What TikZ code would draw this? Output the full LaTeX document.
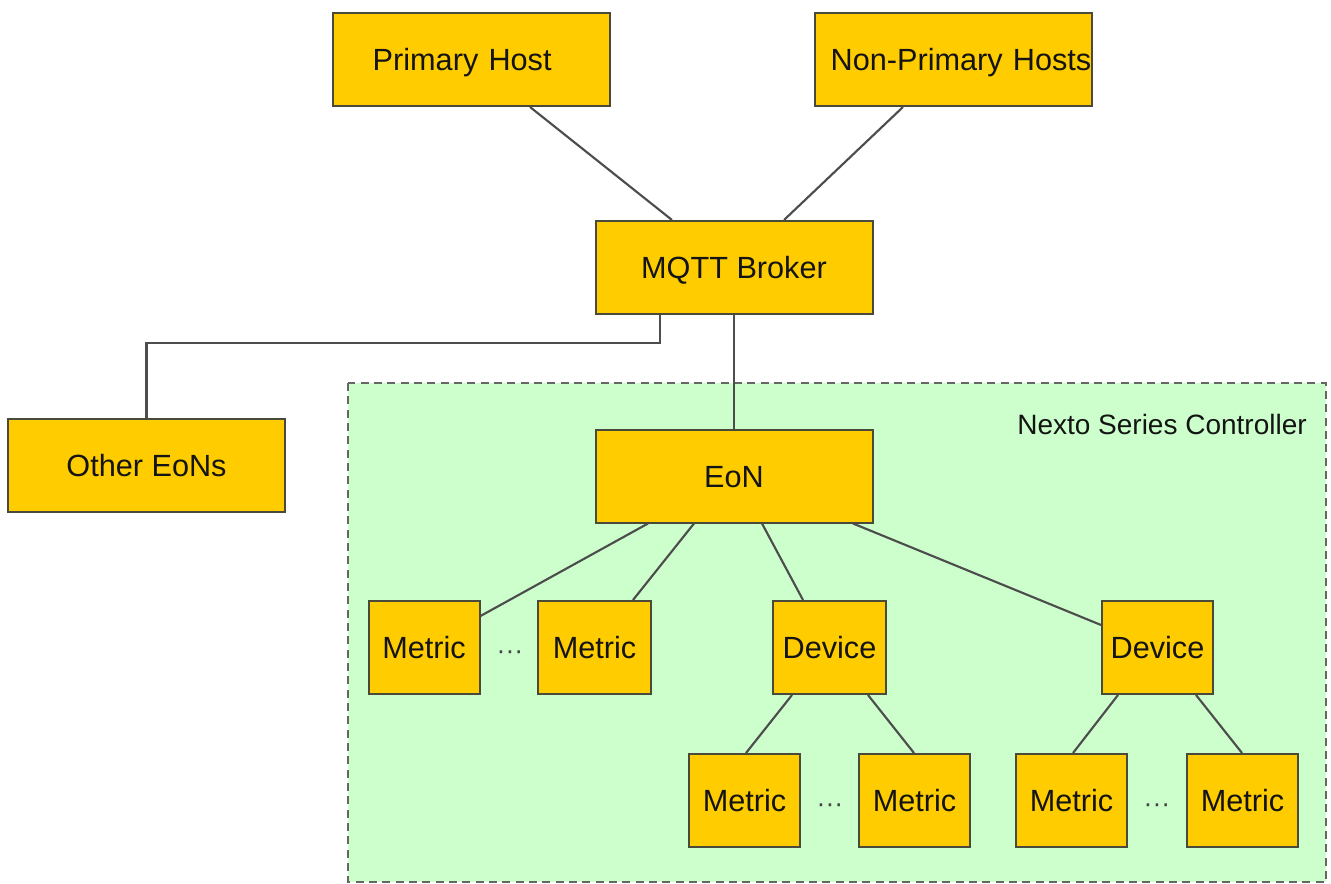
\documentclass[tikz,border=0pt]{standalone}
\usepackage{fontspec}
\setmainfont{Liberation Sans}
\usetikzlibrary{calc}
\definecolor{boxfill}{HTML}{FFCC00}
\definecolor{boxline}{HTML}{4A4A3A}
\definecolor{zonefill}{HTML}{CCFFCC}
\definecolor{zoneline}{HTML}{666666}
\definecolor{wire}{HTML}{4D4D4D}
\definecolor{ink}{HTML}{141414}
\tikzset{
  unit/.style={draw=boxline, line width=1.5pt, fill=boxfill, rectangle, inner sep=0pt,
    text=ink, font=\fontsize{23}{27}\selectfont, text height=16.5pt, text depth=0pt},
  wide/.style={unit, minimum width=277*0.75pt, minimum height=93*0.75pt},
  small/.style={unit, minimum width=111*0.75pt, minimum height=93*0.75pt},
  link/.style={draw=wire, line width=1.6pt},
  gap/.style={text=ink!80, font=\fontsize{20}{24}\selectfont, inner sep=0pt},
}
\begin{document}
\begin{tikzpicture}[x=0.75pt, y=-0.75pt]
\useasboundingbox (0,0) rectangle (1331,884);

% controller zone
\draw[draw=zoneline, fill=zonefill, line width=1.5pt, dash pattern=on 6pt off 4pt]
  (348,383) rectangle (1326,882);
\node[anchor=east, text=ink, font=\fontsize{21}{25}\selectfont, inner sep=0pt,
  text height=15pt, text depth=0pt]
  (zonelabel) at (1307,424) {Nexto Series Controller};

% hosts, broker and edge nodes
\node[wide, text width=277*0.75pt, align=center] (prim) at (471.5,59.5)
  {\hspace*{-14pt}Primary Host};
\node[wide, text width=277*0.75pt, align=center] (nonp) at (953,59.5)
  {\hspace*{12pt}Non-Primary Hosts};
\node[wide] (mqtt)  at (734,267.5)  {MQTT Broker};
\node[wide] (other) at (146.5,465)  {Other EoNs};
\node[wide] (eon)   at (734,476)    {EoN};

% metrics and devices of the EoN
\node[small] (metA) at (424,647.5)    {Metric};
\node[small, minimum width=113*0.75pt] (metB) at (594.5,647.5) {Metric};
\node[small, minimum width=113*0.75pt] (devA) at (829.5,647.5) {Device};
\node[small] (devB) at (1157.5,647.5) {Device};

\node[small] (m1) at (744.5,800.5)  {Metric};
\node[small] (m2) at (914.5,800.5)  {Metric};
\node[small] (m3) at (1071.5,800.5) {Metric};
\node[small] (m4) at (1242.5,800.5) {Metric};

\node[gap] (dotsA) at (510,655) {···};
\node[gap] (dotsB) at (830,808) {···};
\node[gap] (dotsC) at (1157,808) {···};

% connectors
\draw[link] ($(prim.south)+(58.5,0)$) -- ($(mqtt.north)+(-62,0)$);
\draw[link] ($(nonp.south)+(-50,0)$) -- ($(mqtt.north)+(50,0)$);
\draw[link] ($(mqtt.south)+(-74,0)$) -- ++(0,28) -| (other.north);
\draw[link] (mqtt.south) -- (eon.north);

\draw[link] ($(eon.south)+(-86,0)$) -- ($(metA.north east)+(0,16)$);
\draw[link] ($(eon.south)+(-40,0)$) -- ($(metB.north)+(38.5,0)$);
\draw[link] ($(eon.south)+(28,0)$)  -- ($(devA.north)+(-26.5,0)$);
\draw[link] ($(eon.south)+(119,0)$) -- ($(devB.north west)+(0,25)$);

\draw[link] ($(devA.south)+(-37.5,0)$) -- ($(m1.north)+(1.5,0)$);
\draw[link] ($(devA.south)+(38.5,0)$)  -- ($(m2.north)+(-0.5,0)$);
\draw[link] ($(devB.south)+(-39.5,0)$) -- ($(m3.north)+(1.5,0)$);
\draw[link] ($(devB.south)+(38.5,0)$)  -- ($(m4.north)+(-0.5,0)$);
\end{tikzpicture}
\end{document}
